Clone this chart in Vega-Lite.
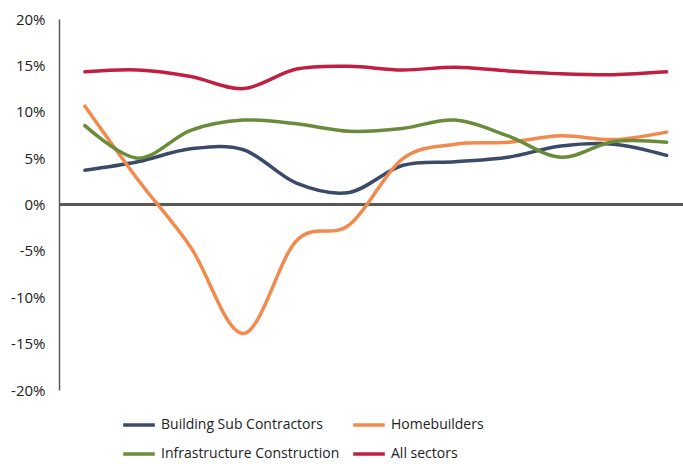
{
  "$schema": "https://vega.github.io/schema/vega-lite/v6.json",
  "width": 624,
  "height": 371,
  "autosize": {"type": "none"},
  "padding": {"left": 59, "top": 19, "right": 0, "bottom": 74},
  "config": {"view": {"stroke": null}, "font": "Open Sans"},
  "data": {"values": [
    {"i": 0, "s": "Building Sub Contractors", "v": 3.7},
    {"i": 1, "s": "Building Sub Contractors", "v": 4.6},
    {"i": 2, "s": "Building Sub Contractors", "v": 6.0},
    {"i": 3, "s": "Building Sub Contractors", "v": 5.9},
    {"i": 4, "s": "Building Sub Contractors", "v": 2.3},
    {"i": 5, "s": "Building Sub Contractors", "v": 1.3},
    {"i": 6, "s": "Building Sub Contractors", "v": 4.2},
    {"i": 7, "s": "Building Sub Contractors", "v": 4.6},
    {"i": 8, "s": "Building Sub Contractors", "v": 5.1},
    {"i": 9, "s": "Building Sub Contractors", "v": 6.3},
    {"i": 10, "s": "Building Sub Contractors", "v": 6.5},
    {"i": 11, "s": "Building Sub Contractors", "v": 5.3},
    {"i": 0, "s": "Homebuilders", "v": 10.6},
    {"i": 1, "s": "Homebuilders", "v": 2.7},
    {"i": 2, "s": "Homebuilders", "v": -4.6},
    {"i": 3, "s": "Homebuilders", "v": -13.9},
    {"i": 4, "s": "Homebuilders", "v": -3.9},
    {"i": 5, "s": "Homebuilders", "v": -2.2},
    {"i": 6, "s": "Homebuilders", "v": 4.9},
    {"i": 7, "s": "Homebuilders", "v": 6.5},
    {"i": 8, "s": "Homebuilders", "v": 6.7},
    {"i": 9, "s": "Homebuilders", "v": 7.4},
    {"i": 10, "s": "Homebuilders", "v": 7.0},
    {"i": 11, "s": "Homebuilders", "v": 7.8},
    {"i": 0, "s": "Infrastructure  Construction", "v": 8.5},
    {"i": 1, "s": "Infrastructure  Construction", "v": 5.0},
    {"i": 2, "s": "Infrastructure  Construction", "v": 8.0},
    {"i": 3, "s": "Infrastructure  Construction", "v": 9.1},
    {"i": 4, "s": "Infrastructure  Construction", "v": 8.7},
    {"i": 5, "s": "Infrastructure  Construction", "v": 7.9},
    {"i": 6, "s": "Infrastructure  Construction", "v": 8.2},
    {"i": 7, "s": "Infrastructure  Construction", "v": 9.1},
    {"i": 8, "s": "Infrastructure  Construction", "v": 7.4},
    {"i": 9, "s": "Infrastructure  Construction", "v": 5.1},
    {"i": 10, "s": "Infrastructure  Construction", "v": 6.8},
    {"i": 11, "s": "Infrastructure  Construction", "v": 6.7},
    {"i": 0, "s": "All sectors", "v": 14.3},
    {"i": 1, "s": "All sectors", "v": 14.5},
    {"i": 2, "s": "All sectors", "v": 13.8},
    {"i": 3, "s": "All sectors", "v": 12.5},
    {"i": 4, "s": "All sectors", "v": 14.6},
    {"i": 5, "s": "All sectors", "v": 14.9},
    {"i": 6, "s": "All sectors", "v": 14.5},
    {"i": 7, "s": "All sectors", "v": 14.8},
    {"i": 8, "s": "All sectors", "v": 14.4},
    {"i": 9, "s": "All sectors", "v": 14.1},
    {"i": 10, "s": "All sectors", "v": 14.0},
    {"i": 11, "s": "All sectors", "v": 14.3}
  ]},
  "layer": [
    {
      "mark": {"type": "rule", "stroke": "#595959", "strokeWidth": 1.5},
      "encoding": {"y": {"datum": 0, "type": "quantitative", "scale": {"domain": [-20, 20]}}}
    },
    {
      "mark": {"type": "line", "interpolate": "cardinal", "strokeWidth": 3.5, "strokeCap": "round"},
      "encoding": {
        "x": {"field": "i", "type": "quantitative", "scale": {"domain": [-0.49, 11.31], "nice": false, "zero": false}, "axis": null},
        "y": {"field": "v", "type": "quantitative", "scale": {"domain": [-20, 20], "nice": false},
          "axis": {"values": [-20, -15, -10, -5, 0, 5, 10, 15, 20], "labelExpr": "datum.value + '%'", "title": null, "grid": false, "ticks": false,
            "domainColor": "#595959", "domainWidth": 1.5, "labelFontSize": 15, "labelColor": "#222222", "labelPadding": 14}},
        "color": {"field": "s", "type": "nominal",
          "scale": {"domain": ["Building Sub Contractors", "Homebuilders", "Infrastructure  Construction", "All sectors"],
            "range": ["#3C4A6A", "#F28A4E", "#6A8C3A", "#C01F42"]},
          "legend": {"title": null, "orient": "none", "legendX": 62, "legendY": 388, "columns": 2, "direction": "horizontal", "symbolType": "stroke",
            "symbolSize": 1000, "symbolStrokeWidth": 3.5, "labelFontSize": 14, "labelColor": "#222222", "labelOffset": 4, "labelLimit": 400,
            "columnPadding": 3, "rowPadding": 4}},
        "sort": {"field": "i"}
      }
    }
  ]
}
